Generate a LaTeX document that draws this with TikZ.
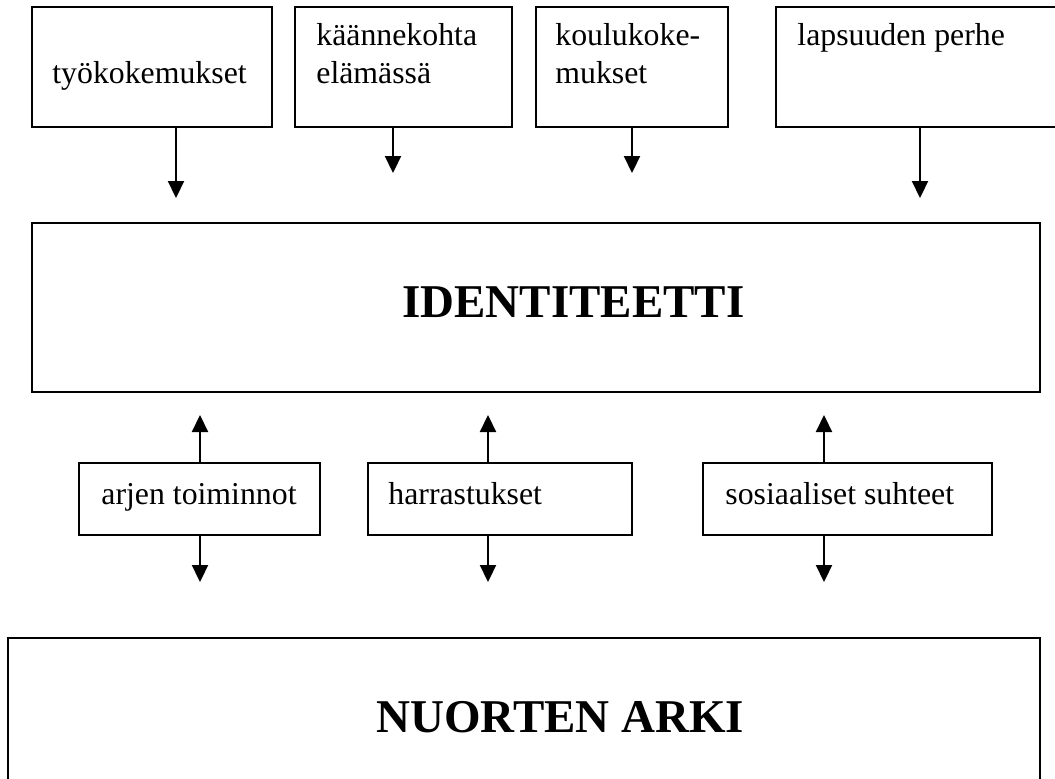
\documentclass[tikz,border=0pt]{standalone}
\usepackage{fontspec}
\setmainfont{Liberation Serif}
\usetikzlibrary{arrows.meta,fit}
\begin{document}
\begin{tikzpicture}[x=0.5pt,y=-0.5pt,
    box/.style={draw,line width=1.3pt,inner sep=0pt},
    txt/.style={anchor=base west,inner sep=0pt,align=left,font=\fontsize{15.9}{19}\selectfont},
    bigtxt/.style={anchor=base west,inner sep=0pt,font=\fontsize{23.5}{28}\selectfont\bfseries},
    arr/.style={-{Triangle[length=8.5pt,width=8pt]},line width=1.1pt}]
    \useasboundingbox (0,0) rectangle (1055,778);
    \node[box,fit={(32,7) (272,127)}] (tyo) {};
    \node[box,fit={(295,7) (512,127)}] (kaanne) {};
    \node[box,fit={(536,7) (728,127)}] (koulu) {};
    \node[box,fit={(776,7) (1080,127)}] (lapsuus) {};
    \node[box,fit={(32,223) (1040,392)}] (ident) {};
    \node[box,fit={(79,463) (320,535)}] (arjen) {};
    \node[box,fit={(368,463) (632,535)}] (harr) {};
    \node[box,fit={(703,463) (992,535)}] (sos) {};
    \node[box,fit={(8,638) (1040,820)}] (arki) {};
    \node[txt] (tyotxt) at (52,83) {työkokemukset};
    \node[txt] (kaannetxt) at (316,83) {käännekohta\\elämässä};
    \node[txt] (koulutxt) at (555,83) {koulukoke-\\mukset};
    \node[txt] (lapsuustxt) at (797,45) {lapsuuden perhe};
    \node[bigtxt] (identtxt) at (402,317) {IDENTITEETTI};
    \node[txt] (arjentxt) at (101,504) {arjen toiminnot};
    \node[txt] (harrtxt) at (388,504) {harrastukset};
    \node[txt] (sostxt) at (725,504) {sosiaaliset suhteet};
    \node[bigtxt] (arkitxt) at (376,732) {NUORTEN ARKI};
    \coordinate (t1) at (176,198);
    \coordinate (t2) at (393,173);
    \coordinate (t3) at (632,173);
    \coordinate (t4) at (920,198);
    \coordinate (u1) at (200,415);
    \coordinate (u2) at (488,415);
    \coordinate (u3) at (824,415);
    \coordinate (d1) at (200,582);
    \coordinate (d2) at (488,582);
    \coordinate (d3) at (824,582);
    \draw[arr] (tyo.south -| t1) -- (t1);
    \draw[arr] (kaanne.south -| t2) -- (t2);
    \draw[arr] (koulu.south -| t3) -- (t3);
    \draw[arr] (lapsuus.south -| t4) -- (t4);
    \draw[arr] (arjen.north -| u1) -- (u1);
    \draw[arr] (harr.north -| u2) -- (u2);
    \draw[arr] (sos.north -| u3) -- (u3);
    \draw[arr] (arjen.south -| d1) -- (d1);
    \draw[arr] (harr.south -| d2) -- (d2);
    \draw[arr] (sos.south -| d3) -- (d3);
\end{tikzpicture}
\end{document}
